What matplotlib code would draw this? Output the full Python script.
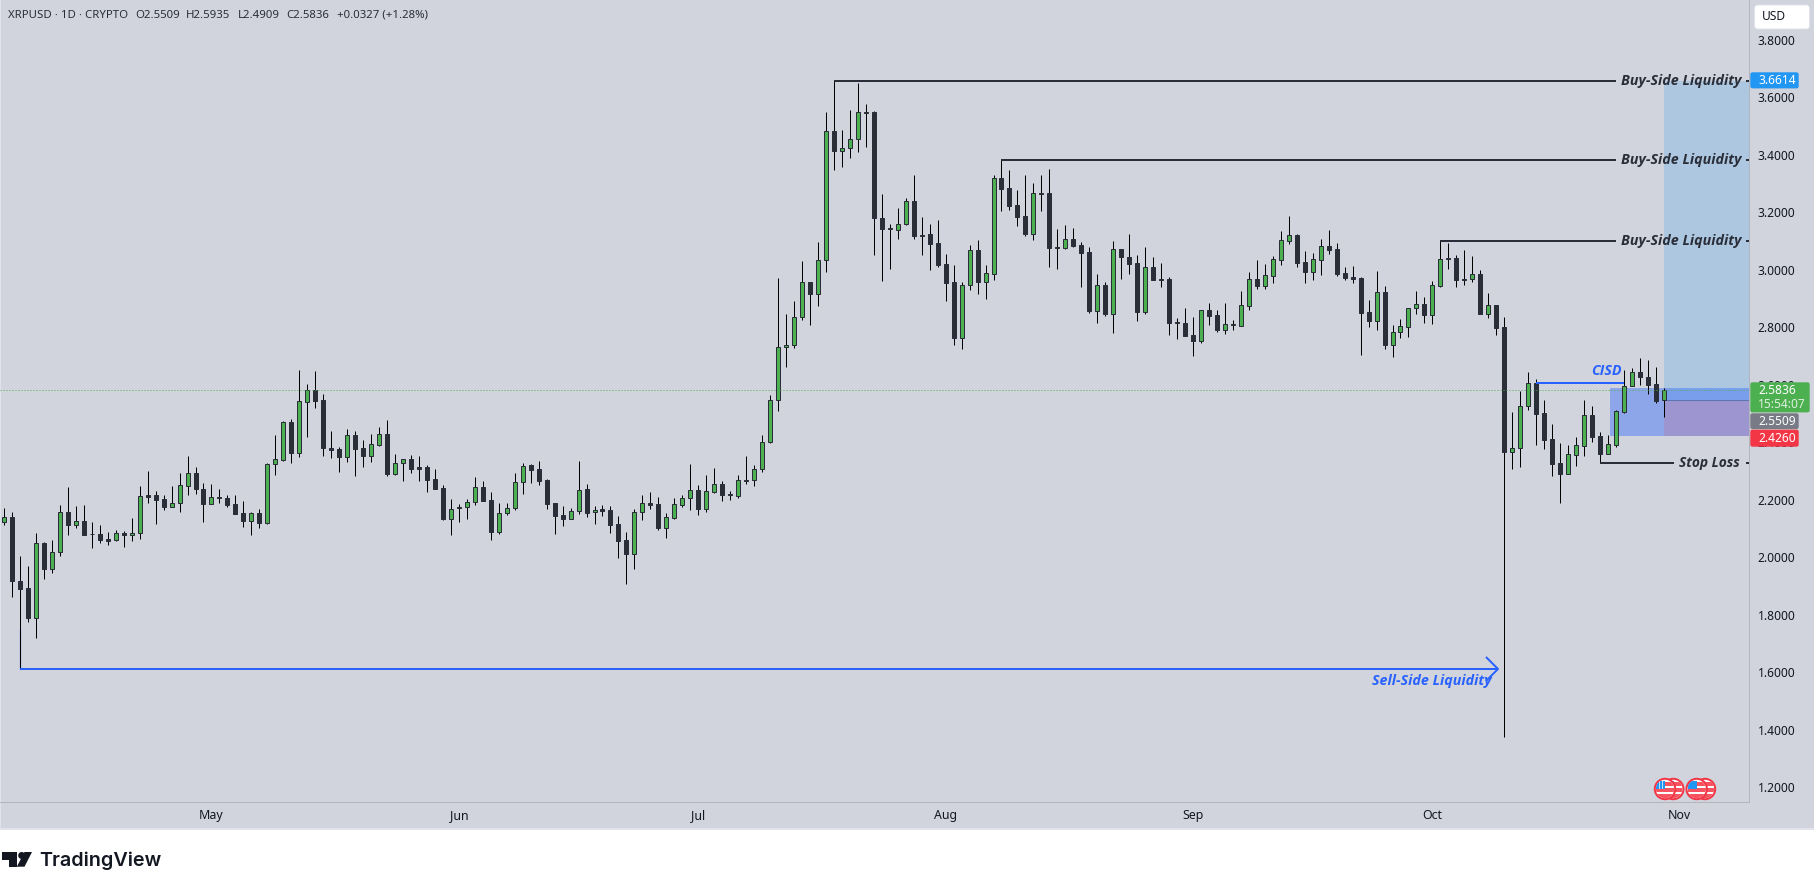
import matplotlib
matplotlib.use("Agg")
import matplotlib.pyplot as plt
from matplotlib.patches import Rectangle, Circle, Polygon, FancyBboxPatch
from matplotlib.transforms import ScaledTranslation

opens = [2.127,2.142,1.920,1.895,1.793,2.052,1.964,2.021,2.160,2.117,
2.128,2.085,2.083,2.067,2.062,2.087,2.079,2.086,2.219,2.219,
2.205,2.179,2.191,2.252,2.295,2.240,2.190,2.213,2.208,2.187,
2.156,2.131,2.156,2.124,2.327,2.341,2.473,2.367,2.544,2.584,
2.549,2.385,2.379,2.353,2.427,2.382,2.356,2.395,2.431,2.294,
2.330,2.344,2.317,2.317,2.274,2.243,2.137,2.173,2.179,2.196,
2.246,2.201,2.092,2.158,2.176,2.266,2.323,2.309,2.271,2.191,
2.149,2.137,2.165,2.239,2.159,2.170,2.166,2.118,2.062,2.016,
2.159,2.191,2.187,2.106,2.141,2.186,2.208,2.236,2.172,2.232,
2.257,2.223,2.218,2.272,2.271,2.309,2.403,2.549,2.733,2.740,
2.838,2.959,2.920,3.036,3.485,3.415,3.426,3.457,3.552,3.551,
3.185,3.148,3.143,3.164,3.241,3.125,3.126,3.095,3.022,2.959,
2.767,2.949,3.071,2.962,2.990,3.321,3.286,3.227,3.189,3.129,
3.272,3.272,3.082,3.080,3.109,3.088,3.064,2.861,2.949,2.851,
3.074,3.047,3.026,2.858,3.012,2.972,2.970,2.822,2.818,2.775,
2.757,2.862,2.845,2.795,2.814,2.809,2.878,2.970,2.948,2.983,
3.038,3.105,3.123,3.029,2.997,3.038,3.085,3.074,2.991,2.977,
2.973,2.855,2.826,2.925,2.743,2.786,2.805,2.869,2.883,2.847,
2.948,3.045,3.043,2.971,2.970,2.990,2.850,2.879,2.803,2.370,
2.384,2.530,2.608,2.504,2.413,2.330,2.294,2.360,2.391,2.497,
2.424,2.364,2.395,2.510,2.598,2.646,2.632,2.605,2.5509]

closes = [2.142,1.919,1.894,1.793,2.052,1.964,2.021,2.160,2.117,2.128,
2.082,2.083,2.065,2.061,2.086,2.079,2.086,2.215,2.214,2.204,
2.179,2.191,2.254,2.295,2.239,2.190,2.212,2.211,2.186,2.155,
2.131,2.156,2.124,2.327,2.344,2.473,2.367,2.546,2.584,2.548,
2.384,2.377,2.353,2.427,2.381,2.356,2.396,2.431,2.294,2.330,
2.344,2.311,2.311,2.273,2.242,2.137,2.172,2.179,2.196,2.246,
2.200,2.092,2.158,2.176,2.266,2.322,2.308,2.270,2.190,2.148,
2.137,2.165,2.238,2.158,2.169,2.165,2.117,2.061,2.016,2.160,
2.191,2.186,2.106,2.142,2.188,2.208,2.236,2.172,2.233,2.257,
2.221,2.221,2.271,2.270,2.309,2.403,2.549,2.733,2.740,2.838,
2.959,2.920,3.036,3.485,3.415,3.426,3.457,3.551,3.549,3.184,
3.146,3.144,3.164,3.241,3.122,3.120,3.094,3.021,2.958,2.767,
2.949,3.071,2.962,2.991,3.321,3.285,3.226,3.188,3.129,3.269,
3.268,3.080,3.078,3.109,3.086,3.063,2.861,2.949,2.851,3.074,
3.046,3.025,2.858,3.012,2.969,2.968,2.819,2.818,2.774,2.757,
2.862,2.844,2.794,2.814,2.811,2.880,2.970,2.948,2.984,3.040,
3.106,3.123,3.028,2.997,3.040,3.085,3.073,2.990,2.976,2.972,
2.854,2.826,2.925,2.743,2.786,2.807,2.869,2.883,2.847,2.949,
3.040,3.041,2.969,2.967,2.990,2.850,2.879,2.802,2.370,2.385,
2.531,2.608,2.502,2.412,2.329,2.294,2.361,2.393,2.497,2.423,
2.364,2.396,2.511,2.598,2.646,2.631,2.603,2.548,2.5836]

highs = [2.174,2.160,2.007,1.972,2.087,2.055,2.062,2.184,2.247,2.181,
2.184,2.125,2.115,2.090,2.097,2.094,2.139,2.250,2.302,2.233,
2.219,2.250,2.295,2.354,2.316,2.261,2.257,2.240,2.219,2.219,
2.198,2.160,2.170,2.330,2.428,2.476,2.483,2.653,2.605,2.650,
2.570,2.441,2.388,2.448,2.441,2.410,2.431,2.455,2.479,2.361,
2.344,2.358,2.354,2.323,2.312,2.253,2.205,2.187,2.205,2.281,
2.267,2.229,2.191,2.191,2.295,2.330,2.326,2.337,2.274,2.191,
2.180,2.176,2.337,2.257,2.181,2.184,2.181,2.146,2.090,2.170,
2.219,2.229,2.212,2.156,2.208,2.219,2.327,2.254,2.288,2.313,
2.268,2.233,2.288,2.354,2.323,2.428,2.567,2.973,2.848,2.893,
3.033,2.959,3.099,3.551,3.663,3.488,3.558,3.652,3.579,3.554,
3.266,3.161,3.217,3.252,3.332,3.186,3.161,3.175,3.057,3.019,
2.959,3.088,3.106,3.019,3.332,3.385,3.349,3.280,3.332,3.304,
3.332,3.353,3.144,3.158,3.148,3.099,3.081,2.988,2.960,3.102,
3.074,3.127,3.054,3.081,3.047,3.026,2.977,2.834,2.869,2.838,
2.865,2.887,2.862,2.887,2.828,2.928,2.994,3.036,3.022,3.050,
3.137,3.189,3.126,3.067,3.060,3.109,3.140,3.095,3.012,3.015,
2.977,2.897,2.998,2.946,2.810,2.831,2.869,2.928,2.907,2.963,
3.103,3.095,3.054,3.071,3.050,3.001,2.924,2.879,2.838,2.507,
2.580,2.646,2.622,2.549,2.466,2.399,2.393,2.420,2.552,2.531,
2.438,2.427,2.514,2.653,2.660,2.698,2.688,2.664,2.5935]

lows = [2.117,1.866,1.613,1.779,1.724,1.926,1.950,2.006,2.082,2.106,
2.082,2.037,2.054,2.047,2.060,2.040,2.061,2.068,2.193,2.120,
2.166,2.179,2.162,2.221,2.225,2.127,2.190,2.193,2.179,2.155,
2.110,2.082,2.106,2.120,2.291,2.339,2.332,2.353,2.423,2.523,
2.356,2.350,2.301,2.336,2.287,2.318,2.336,2.391,2.287,2.290,
2.270,2.297,2.270,2.231,2.242,2.134,2.082,2.127,2.137,2.186,
2.200,2.064,2.085,2.151,2.169,2.224,2.263,2.256,2.172,2.085,
2.113,2.137,2.155,2.144,2.120,2.148,2.089,2.002,1.912,1.964,
2.133,2.172,2.099,2.072,2.138,2.179,2.169,2.152,2.162,2.228,
2.200,2.204,2.211,2.259,2.252,2.301,2.400,2.513,2.666,2.730,
2.827,2.810,2.878,2.994,3.352,3.359,3.391,3.412,3.429,3.053,
2.963,3.005,3.111,3.160,3.111,3.056,3.004,3.014,2.896,2.743,
2.729,2.934,2.920,2.903,2.969,3.209,3.212,3.157,3.122,3.108,
3.206,3.014,3.007,3.077,3.084,2.945,2.854,2.819,2.844,2.785,
2.972,2.990,2.826,2.851,2.966,2.945,2.778,2.764,2.774,2.705,
2.750,2.812,2.788,2.781,2.795,2.809,2.865,2.938,2.938,2.958,
3.021,3.094,3.014,2.958,2.969,2.986,3.059,2.983,2.969,2.958,
2.708,2.805,2.795,2.729,2.701,2.767,2.771,2.851,2.819,2.816,
2.945,3.007,2.945,2.952,2.959,2.850,2.837,2.777,1.379,2.311,
2.318,2.516,2.395,2.381,2.287,2.193,2.294,2.322,2.357,2.405,
2.331,2.364,2.388,2.506,2.598,2.602,2.572,2.541,2.4909]

month_labels = ["May", "Jun", "Jul", "Aug", "Sep", "Oct", "Nov"]
month_index = [26, 57, 87, 118, 149, 179, 210]
price_ticks = [3.8, 3.6, 3.4, 3.2, 3.0, 2.8, 2.6, 2.4, 2.2, 2.0, 1.8, 1.6, 1.4, 1.2]

last_price = 2.5836
entry_price = 2.5509
target_price = 3.6614
stop_price = 2.4260
box_top_price = 2.593

W, H = 1815, 890
PX = 0.72
BG = "#D1D4DC"
DARK = "#2A2E39"
GREEN = "#4CAF50"
BLUE = "#2962FF"
GRID = "#B2B5BE"
UI_FONT = ["Noto Sans", "DejaVu Sans"]
NOTE_FONT = ["Open Sans", "DejaVu Sans"]

fig = plt.figure(figsize=(W / 100, H / 100), dpi=100, facecolor="white")

under = fig.add_axes([0, 0, 1, 1], zorder=0)
under.set_xlim(0, W); under.set_ylim(H, 0); under.axis("off")
under.add_patch(Rectangle((0, 0), W, 829, fc=BG, ec="none"))
under.add_patch(Rectangle((0, 0), 1.5, 829, fc="#E0E3EB", ec="none"))
under.add_patch(Rectangle((0, 828), W, 1.5, fc="#E0E3EB", ec="none"))

# chart pane: pixel x 0..1749.3, pixel y 0..802
ax = fig.add_axes([0, (H - 802) / H, 1749.3 / W, 802 / H], zorder=1)
ax.patch.set_visible(False)
STEP = 7.98
X0 = 4.0
def bar_pos(px):
    return (px - X0) / STEP
ax.set_xlim(bar_pos(0), bar_pos(1749.3))
ax.set_ylim(3.8 - 761.3 / 287.5, 3.8 + 40.7 / 287.5)
for name in ("top", "left"):
    ax.spines[name].set_visible(False)
for name in ("right", "bottom"):
    ax.spines[name].set_color(GRID)
    ax.spines[name].set_linewidth(1 * PX)

ax.yaxis.tick_right()
ax.set_yticks(price_ticks, [f"{p:.4f}" for p in price_ticks], fontfamily=UI_FONT,
              fontsize=12 * PX, color="#131722")
ax.tick_params(axis="y", length=0, pad=8.5 * PX)
ax.set_xticks(month_index, month_labels, fontfamily=UI_FONT, fontsize=12 * PX * 1.03, color="#131722")
ax.tick_params(axis="x", length=0, pad=7 * PX)
nudge = ScaledTranslation(0, 0.8 / 100, fig.dpi_scale_trans)
for lab in ax.get_yticklabels():
    lab.set_transform(lab.get_transform() + nudge)
xmax = ax.get_xlim()[1]

# position-tool zones
ax.add_patch(Rectangle((208, entry_price), xmax - 208, target_price - entry_price, fc="#2196F3", alpha=0.2, ec="none", zorder=1))
ax.add_patch(Rectangle((bar_pos(1610), stop_price), xmax - bar_pos(1610), box_top_price - stop_price, fc=BLUE, alpha=0.4, ec="none", zorder=1.1))
ax.add_patch(Rectangle((208, stop_price), xmax - 208, entry_price - stop_price, fc="#F23645", alpha=0.15, ec="none", zorder=1.2))
ax.plot([208, xmax], [entry_price, entry_price], color="#5C74B0", lw=1 * PX, zorder=1.3)

# candles
xs = list(range(len(opens)))
ax.vlines(xs, lows, highs, color="#000000", lw=1 * PX, zorder=3)
bottoms = [min(o, c) for o, c in zip(opens, closes)]
heights = [abs(c - o) for o, c in zip(opens, closes)]
fills = [GREEN if c >= o else DARK for o, c in zip(opens, closes)]
ax.bar(xs, heights, bottom=bottoms, width=4 / STEP, color=fills, edgecolor=DARK, linewidth=1 * PX, zorder=4)

# last price line
ax.plot([ax.get_xlim()[0], xmax], [last_price, last_price], color=GREEN, lw=1 * PX,
        linestyle=(0, (1, 2)), zorder=5)

# annotation lines
LINE = 2 * PX
for start, lvl in ((104, target_price), (125, 3.386), (180, 3.104)):
    ax.plot([start, bar_pos(1616)], [lvl, lvl], color=DARK, lw=LINE, zorder=6, solid_capstyle="butt")
    ax.plot([bar_pos(1746), xmax], [lvl, lvl], color=DARK, lw=LINE, zorder=6, solid_capstyle="butt")
ax.plot([200, bar_pos(1674)], [2.332, 2.332], color=DARK, lw=LINE, zorder=6, solid_capstyle="butt")
ax.plot([bar_pos(1746), xmax], [2.332, 2.332], color=DARK, lw=LINE, zorder=6, solid_capstyle="butt")
ax.plot([192, 203], [2.610, 2.610], color=BLUE, lw=LINE, zorder=6, solid_capstyle="butt")
ax.plot([2, bar_pos(1497)], [1.6146, 1.6146], color=BLUE, lw=LINE, zorder=6, solid_capstyle="butt")
ax.plot([2, 2], [1.6146, 1.75], color=BLUE, lw=LINE * 0.6, zorder=2.5)
ax.plot([bar_pos(1486.7), bar_pos(1498), bar_pos(1486.7)],
        [1.6146 + 11.3 / 287.5, 1.6146, 1.6146 - 11.3 / 287.5], color=BLUE, lw=LINE, zorder=6)

# overlay in pixel coordinates for the chart furniture
ov = fig.add_axes([0, 0, 1, 1], zorder=2)
ov.set_xlim(0, W); ov.set_ylim(H, 0); ov.axis("off"); ov.patch.set_visible(False)

def note(x, y, s, color=DARK, size=14.2):
    ov.text(x, y, s, color=color, ha="left", va="center", fontfamily=NOTE_FONT, fontsize=size * PX,
            fontweight="bold", fontstyle="italic")

for yy in (80.8, 160.2, 241.2):
    note(1620.7, yy, "Buy-Side Liquidity")
note(1679, 462.7, "Stop Loss", size=13.7)
note(1591, 371, "CISD", color=BLUE)
note(1372, 680.7, "Sell-Side Liquidity", color=BLUE)

def header(x, s):
    ov.text(x, 15, s, color=DARK, ha="left", va="center", fontfamily=UI_FONT, fontsize=11.4 * PX)
header(8, "XRPUSD · 1D · CRYPTO")
header(135, "O2.5509")
header(186, "H2.5935")
header(237.5, "L2.4909")
header(286, "C2.5836")
header(337, "+0.0327 (+1.28%)")

def tag(x0, x1, y0, y1, color):
    ov.add_patch(FancyBboxPatch((x0 + 1, y0 + 1), x1 - x0 - 2, y1 - y0 - 2,
                 boxstyle="round,pad=0,rounding_size=1.5", mutation_aspect=1, fc=color, ec=color, lw=1))

def tagtext(y, s, color="white", weight="medium"):
    ov.text(1758, y, s, color=color, ha="left", va="center", fontfamily=UI_FONT,
            fontsize=12 * PX, fontweight=weight)

tag(1750, 1799, 72, 88.7, "#2196F3")
tagtext(80, "3.6614")
tag(1750, 1810, 382, 412.7, GREEN)
tagtext(390, "2.5836")
tagtext(405, "15:54:07", color="#DCEFDD")
tag(1750, 1799, 413, 429.3, "#787B86")
tagtext(421.3, "2.5509")
tag(1750, 1799, 429.3, 447, "#F23645")
tagtext(438, "2.4260")

ov.add_patch(FancyBboxPatch((1754.5, 5), 55, 24, boxstyle="round,pad=0,rounding_size=3", fc="white", ec="#E0E3EB", lw=1 * PX))
ov.text(1762, 17, "USD", color="#131722", ha="left", va="center", fontfamily=UI_FONT, fontsize=12 * PX)

def flag(cx, cy, r=10.2):
    ov.add_patch(Circle((cx, cy), r, fc="white", ec="#F23645", lw=2 * PX))
    clip = Circle((cx, cy), r - 1, transform=ov.transData)
    for (x, y, w, h, c) in ((-9, -7, 20, 4, "#F7525F"), (-9, -1, 20, 4, "#F7525F"), (-9, 5, 20, 5, "#F7525F"),
                            (-9, -8, 9.5, 8, "#2196F3"), (-6, -8, 0.8, 8, "#BBDEFB"), (-3, -8, 0.8, 8, "#BBDEFB"),
                            (-9, -4.5, 9.5, 0.8, "#BBDEFB")):
        p = Rectangle((cx + x, cy + y), w, h, fc=c, ec="none")
        ov.add_patch(p)
        p.set_clip_path(clip)

for cx in (1673.3, 1665, 1705, 1696.7):
    flag(cx, 789)

# TradingView mark
INK = "#131722"
under.add_patch(Polygon([(2.3, 852), (17.5, 852), (17.5, 866.7), (9.5, 866.7), (9.5, 859.5), (2.3, 859.5)], fc=INK, ec="none"))
under.add_patch(Circle((21.7, 855.5), 3.5, fc=INK, ec="none"))
under.add_patch(Polygon([(24.5, 852), (32, 852), (24.5, 866.7), (16.8, 866.7)], fc=INK, ec="none"))
under.text(39, 860.5, "TradingView", color=INK, ha="left", va="center", fontfamily=["Inter", "DejaVu Sans"],
           fontsize=19.8 * PX, fontweight="semibold")

fig.savefig("out.png", dpi=100)
